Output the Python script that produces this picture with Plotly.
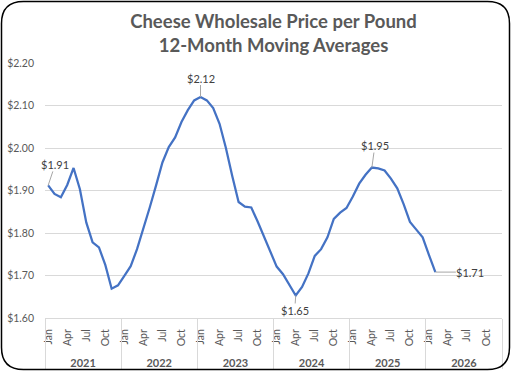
import plotly.graph_objects as go

# ---- data ----
years = ["2021", "2022", "2023", "2024", "2025", "2026"]
months = ["Jan", "Feb", "Mar", "Apr", "May", "Jun", "Jul", "Aug", "Sep", "Oct", "Nov", "Dec"]
shown_months = ["Jan", "Apr", "Jul", "Oct"]
price_2021 = [1.912, 1.892, 1.884, 1.913, 1.953, 1.903, 1.825, 1.778, 1.766, 1.725, 1.669, 1.677]
price_2022 = [1.699, 1.722, 1.762, 1.809, 1.860, 1.912, 1.966, 2.002, 2.025, 2.061, 2.089, 2.112]
price_2023 = [2.120, 2.112, 2.094, 2.057, 2.000, 1.934, 1.873, 1.862, 1.860, 1.827, 1.792, 1.754]
price_2024 = [1.721, 1.703, 1.677, 1.653, 1.673, 1.705, 1.746, 1.762, 1.790, 1.833, 1.848, 1.859]
price_2025 = [1.886, 1.916, 1.937, 1.954, 1.952, 1.947, 1.928, 1.905, 1.868, 1.826, 1.808, 1.790]
price_2026 = [1.748, 1.708]
labeled_points = [0, 24, 39, 51, 61]
y_ticks = [1.60, 1.70, 1.80, 1.90, 2.00, 2.10, 2.20]

prices = price_2021 + price_2022 + price_2023 + price_2024 + price_2025 + price_2026
n_cat = len(years) * len(months)
x_idx = list(range(len(prices)))

# ---- style ----
W, H = 512, 372
ML, MR, MT, MB = 45, 10, 63, 54
PW, PH = W - ML - MR, H - MT - MB
FONT = "Lato"
GRAY = "#595959"
GRID = "#d9d9d9"
LINE = "#4472C4"

fig = go.Figure()
fig.add_trace(go.Scatter(x=x_idx, y=prices, mode="lines",
                         line=dict(color=LINE, width=2.25), hoverinfo="skip",
                         showlegend=False))
# empty helper traces so the overlaying category axes (separators, years) are drawn
fig.add_trace(go.Scatter(x=[], y=[], xaxis="x2", yaxis="y", showlegend=False,
                         hoverinfo="skip"))
fig.add_trace(go.Scatter(x=[], y=[], xaxis="x3", yaxis="y", showlegend=False,
                         hoverinfo="skip"))

month_tickvals = [yi * 12 + months.index(m) for yi in range(len(years)) for m in shown_months]
month_ticktext = [m for _ in years for m in shown_months]
sep_vals = [yi * 12 - 0.5 for yi in range(len(years) + 1)]
year_vals = [yi * 12 + 5.5 for yi in range(len(years))]
xr = [-0.5, n_cat - 0.5]

# label offsets (pixels) for data labels
offsets = {0: (7, -21), 24: (0, -19), 39: (-1, 15), 51: (3, -22), 61: (35, 0)}
for i in labeled_points:
    ax, ay = offsets[i]
    fig.add_annotation(x=i, y=prices[i], xref="x", yref="y",
                       text=f"${prices[i]:.2f}", showarrow=True, arrowhead=0,
                       arrowwidth=1, arrowcolor="#a6a6a6", ax=ax, ay=ay,
                       standoff=0, borderpad=0,
                       font=dict(family=FONT, size=11, color="#404040"))

# rounded border around the whole chart (paper coordinates from pixels)
def px(xp):
    return (xp - ML) / PW

def py(yp):
    return (H - MB - yp) / PH

x0, x1, y0, y1, r = 1.5, 509.5, 1.5, 369.5, 22
path = (f"M {px(x0 + r)},{py(y0)} L {px(x1 - r)},{py(y0)} "
        f"Q {px(x1)},{py(y0)} {px(x1)},{py(y0 + r)} L {px(x1)},{py(y1 - r)} "
        f"Q {px(x1)},{py(y1)} {px(x1 - r)},{py(y1)} L {px(x0 + r)},{py(y1)} "
        f"Q {px(x0)},{py(y1)} {px(x0)},{py(y1 - r)} L {px(x0)},{py(y0 + r)} "
        f"Q {px(x0)},{py(y0)} {px(x0 + r)},{py(y0)} Z")
fig.add_shape(type="path", path=path, xref="paper", yref="paper",
              line=dict(color="black", width=1.5), layer="above")

fig.update_layout(
    width=W, height=H,
    margin=dict(l=ML, r=MR, t=MT, b=MB, autoexpand=False),
    paper_bgcolor="white", plot_bgcolor="white",
    showlegend=False,
    title=dict(text="<b>Cheese Wholesale Price per Pound<br>12-Month Moving Averages</b>",
               x=0.5, xref="paper", xanchor="center", y=(H - 28) / H, yanchor="middle",
               font=dict(family=FONT, size=18.5, color=GRAY)),
    font=dict(family=FONT, color=GRAY),
    xaxis=dict(range=xr, tickmode="array", tickvals=month_tickvals,
               ticktext=month_ticktext, tickangle=-90, ticks="", automargin=False,
               showgrid=False, zeroline=False, showline=True, linecolor=GRID,
               linewidth=1, tickfont=dict(family=FONT, size=10.5, color=GRAY),
               ticklabelstandoff=6),
    xaxis2=dict(range=xr, overlaying="x", anchor="y", side="bottom", automargin=False,
                tickmode="array", tickvals=sep_vals, ticks="outside",
                ticklen=50, tickcolor=GRID, tickwidth=1,
                showticklabels=False, showgrid=False, zeroline=False,
                showline=False),
    xaxis3=dict(range=xr, overlaying="x", anchor="y", side="bottom", automargin=False,
                tickmode="array", tickvals=year_vals, ticktext=years, ticks="",
                showgrid=False, zeroline=False, showline=False,
                tickfont=dict(family=FONT, size=11, color=GRAY, weight="bold"),
                ticklabelstandoff=37),
    yaxis=dict(range=[1.6, 2.2], tickmode="array", tickvals=y_ticks, automargin=False,
               tickformat="$.2f", showgrid=True, gridcolor=GRID, gridwidth=1,
               zeroline=False, showline=False, ticks="",
               tickfont=dict(family=FONT, size=10.5, color=GRAY),
               ticklabelstandoff=10),
)

fig.write_html("out.html", config={"displayModeBar": False},
               post_script="document.body.style.margin='0';document.body.style.overflow='hidden';")
